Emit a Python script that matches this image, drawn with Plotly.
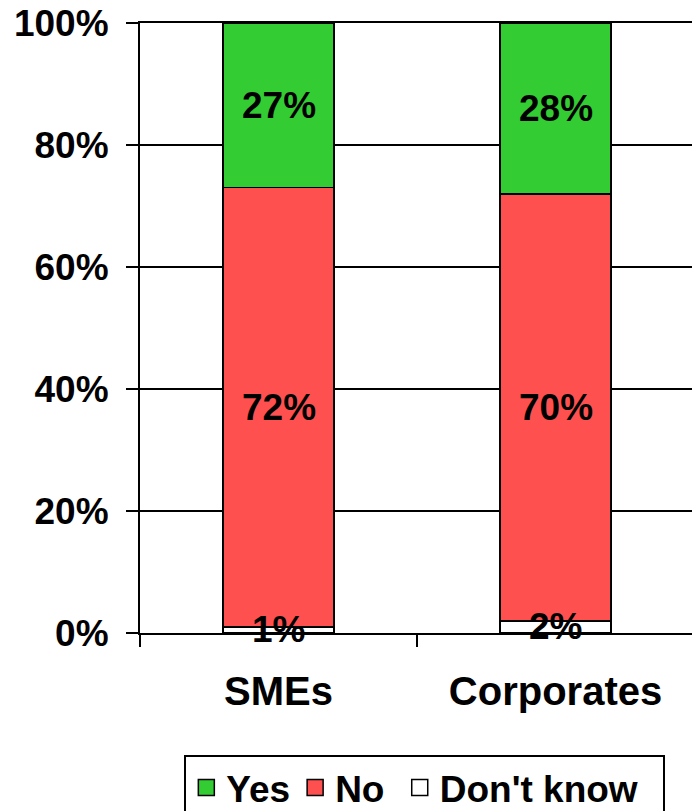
import plotly.graph_objects as go

categories = ["SMEs", "Corporates"]
dont_know = [1, 2]
no_vals = [72, 70]
yes_vals = [27, 28]
series = [("Don't know", dont_know, "#FFFFFF"), ("No", no_vals, "#FF5050"), ("Yes", yes_vals, "#33CC33")]
legend_names = {"Don't know": "Don't know\u00a0\u00a0", "No": "No\u00a0", "Yes": "Yes"}
y_ticks = [0, 20, 40, 60, 80, 100]
y_tick_text = ["0%", "20%", "40%", "60%", "80%", "100%"]

FAM = "Liberation Sans, Arial, sans-serif"
FONT = dict(family=FAM, size=37, color="black", weight="bold")

fig = go.Figure()
for name, vals, color in series:
    fig.add_trace(go.Bar(
        name=name, x=categories, y=vals,
        marker=dict(color=color, line=dict(color="black", width=1.5)),
        width=0.4, hoverinfo="skip", showlegend=False,
    ))

# legend entries (larger square symbols)
for name, vals, color in series:
    fig.add_trace(go.Scatter(
        name=legend_names[name], x=[None], y=[None], mode="markers",
        marker=dict(symbol="square", size=16, color=color, line=dict(color="black", width=1.5)),
        showlegend=True, hoverinfo="skip",
    ))

# value labels centred in each stacked segment
annotations = []
for i, cat in enumerate(categories):
    base = 0
    for name, vals, color in series:
        v = vals[i]
        annotations.append(dict(
            x=cat, y=base + v / 2, xref="x", yref="y", text=f"{v}%",
            showarrow=False, font=FONT, xanchor="center", yanchor="middle",
        ))
        base += v

fig.update_layout(
    width=692, height=811,
    barmode="stack",
    margin=dict(l=140, r=0, t=23, b=178, autoexpand=False),
    paper_bgcolor="white", plot_bgcolor="white",
    font=FONT,
    annotations=annotations,
    showlegend=True,
    legend=dict(
        orientation="h", x=0.516, xanchor="center", y=-0.2, yanchor="top",
        traceorder="reversed", bordercolor="black", borderwidth=2,
        bgcolor="white", font=FONT, itemclick=False, itemwidth=30,
    ),
    xaxis=dict(
        range=[-0.5, -0.5 + 552 / 277], type="category",
        showline=True, linecolor="black", linewidth=2, mirror=True,
        ticks="outside", tickson="boundaries", ticklen=12, tickwidth=2,
        tickcolor="black", ticklabelstandoff=22, showgrid=False,
        tickfont=dict(family=FAM, size=40, color="black", weight="bold"),
        automargin=False, fixedrange=True,
    ),
    yaxis=dict(
        range=[0, 100], tickvals=y_ticks, ticktext=y_tick_text,
        showline=True, linecolor="black", linewidth=2,
        ticks="outside", ticklen=12, tickwidth=2, tickcolor="black",
        showgrid=True, gridcolor="black", gridwidth=1.5,
        zeroline=False, ticklabelstandoff=10, tickfont=FONT,
        automargin=False, fixedrange=True,
    ),
)

fig.write_html(
    "out.html",
    config={"displayModeBar": False, "staticPlot": True},
    post_script="document.body.style.margin='0px';document.body.style.overflow='hidden';",
)
